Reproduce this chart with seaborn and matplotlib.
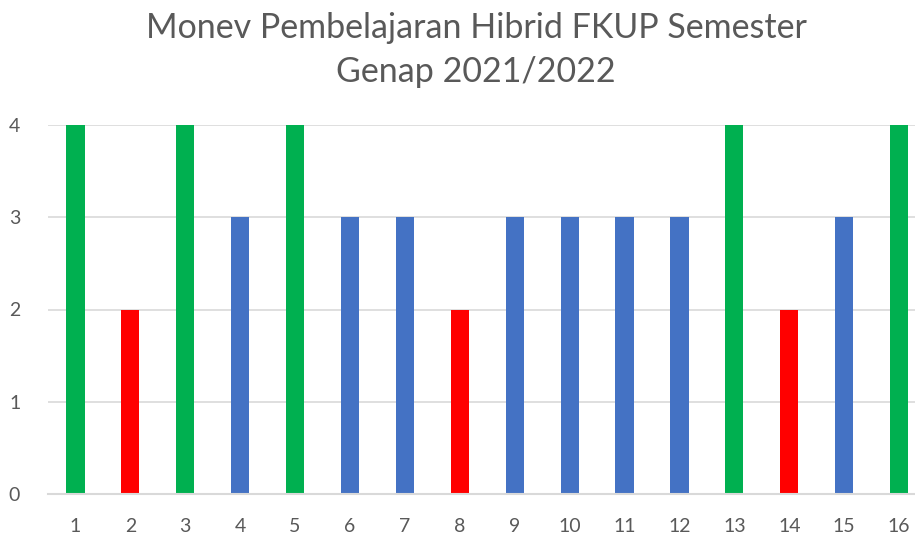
import matplotlib
matplotlib.use("Agg")
import matplotlib.pyplot as plt
import seaborn as sns
import pandas as pd

categories = [str(i) for i in range(1, 17)]
values = [4, 2, 4, 3, 4, 3, 3, 2, 3, 3, 3, 3, 4, 2, 3, 4]
color_map = {4: "#00B050", 3: "#4472C4", 2: "#FF0000"}
title = "Monev Pembelajaran Hibrid FKUP Semester\nGenap 2021/2022"

df = pd.DataFrame({"cat": categories, "val": values})
palette = {c: color_map[v] for c, v in zip(categories, values)}

sns.set_theme(style="white")
plt.rcParams["font.family"] = ["Lato", "DejaVu Sans"]

fig = plt.figure(figsize=(9.15, 5.38), dpi=100)
ax = fig.add_axes([48/915, 1-494/538, 1-48/915, (494-125)/538])
sns.barplot(data=df, x="cat", y="val", hue="cat", palette=palette, legend=False,
            width=0.33, saturation=1, ax=ax, order=categories, hue_order=categories,
            linewidth=0)

ax.set_xlim(-0.5, 15.29)
ax.set_ylim(0, 4)
ax.set_yticks([0, 1, 2, 3, 4])
ax.yaxis.grid(True, color="#D9D9D9", linewidth=1.2)
ax.set_axisbelow(True)
for s in ["top", "right", "left"]:
    ax.spines[s].set_visible(False)
ax.spines["bottom"].set_color("#D9D9D9")
ax.spines["bottom"].set_linewidth(1.5)
ax.set_xlabel("")
ax.set_ylabel("")
ax.tick_params(axis="both", length=0, labelsize=14, labelcolor="#595959")
ax.tick_params(axis="x", pad=17)
ax.tick_params(axis="y", pad=20)

fig.text(476/915, 1-50/538, title, ha="center", va="center", fontsize=24.5,
         color="#595959", linespacing=1.45)

fig.savefig("out.png", dpi=100)
